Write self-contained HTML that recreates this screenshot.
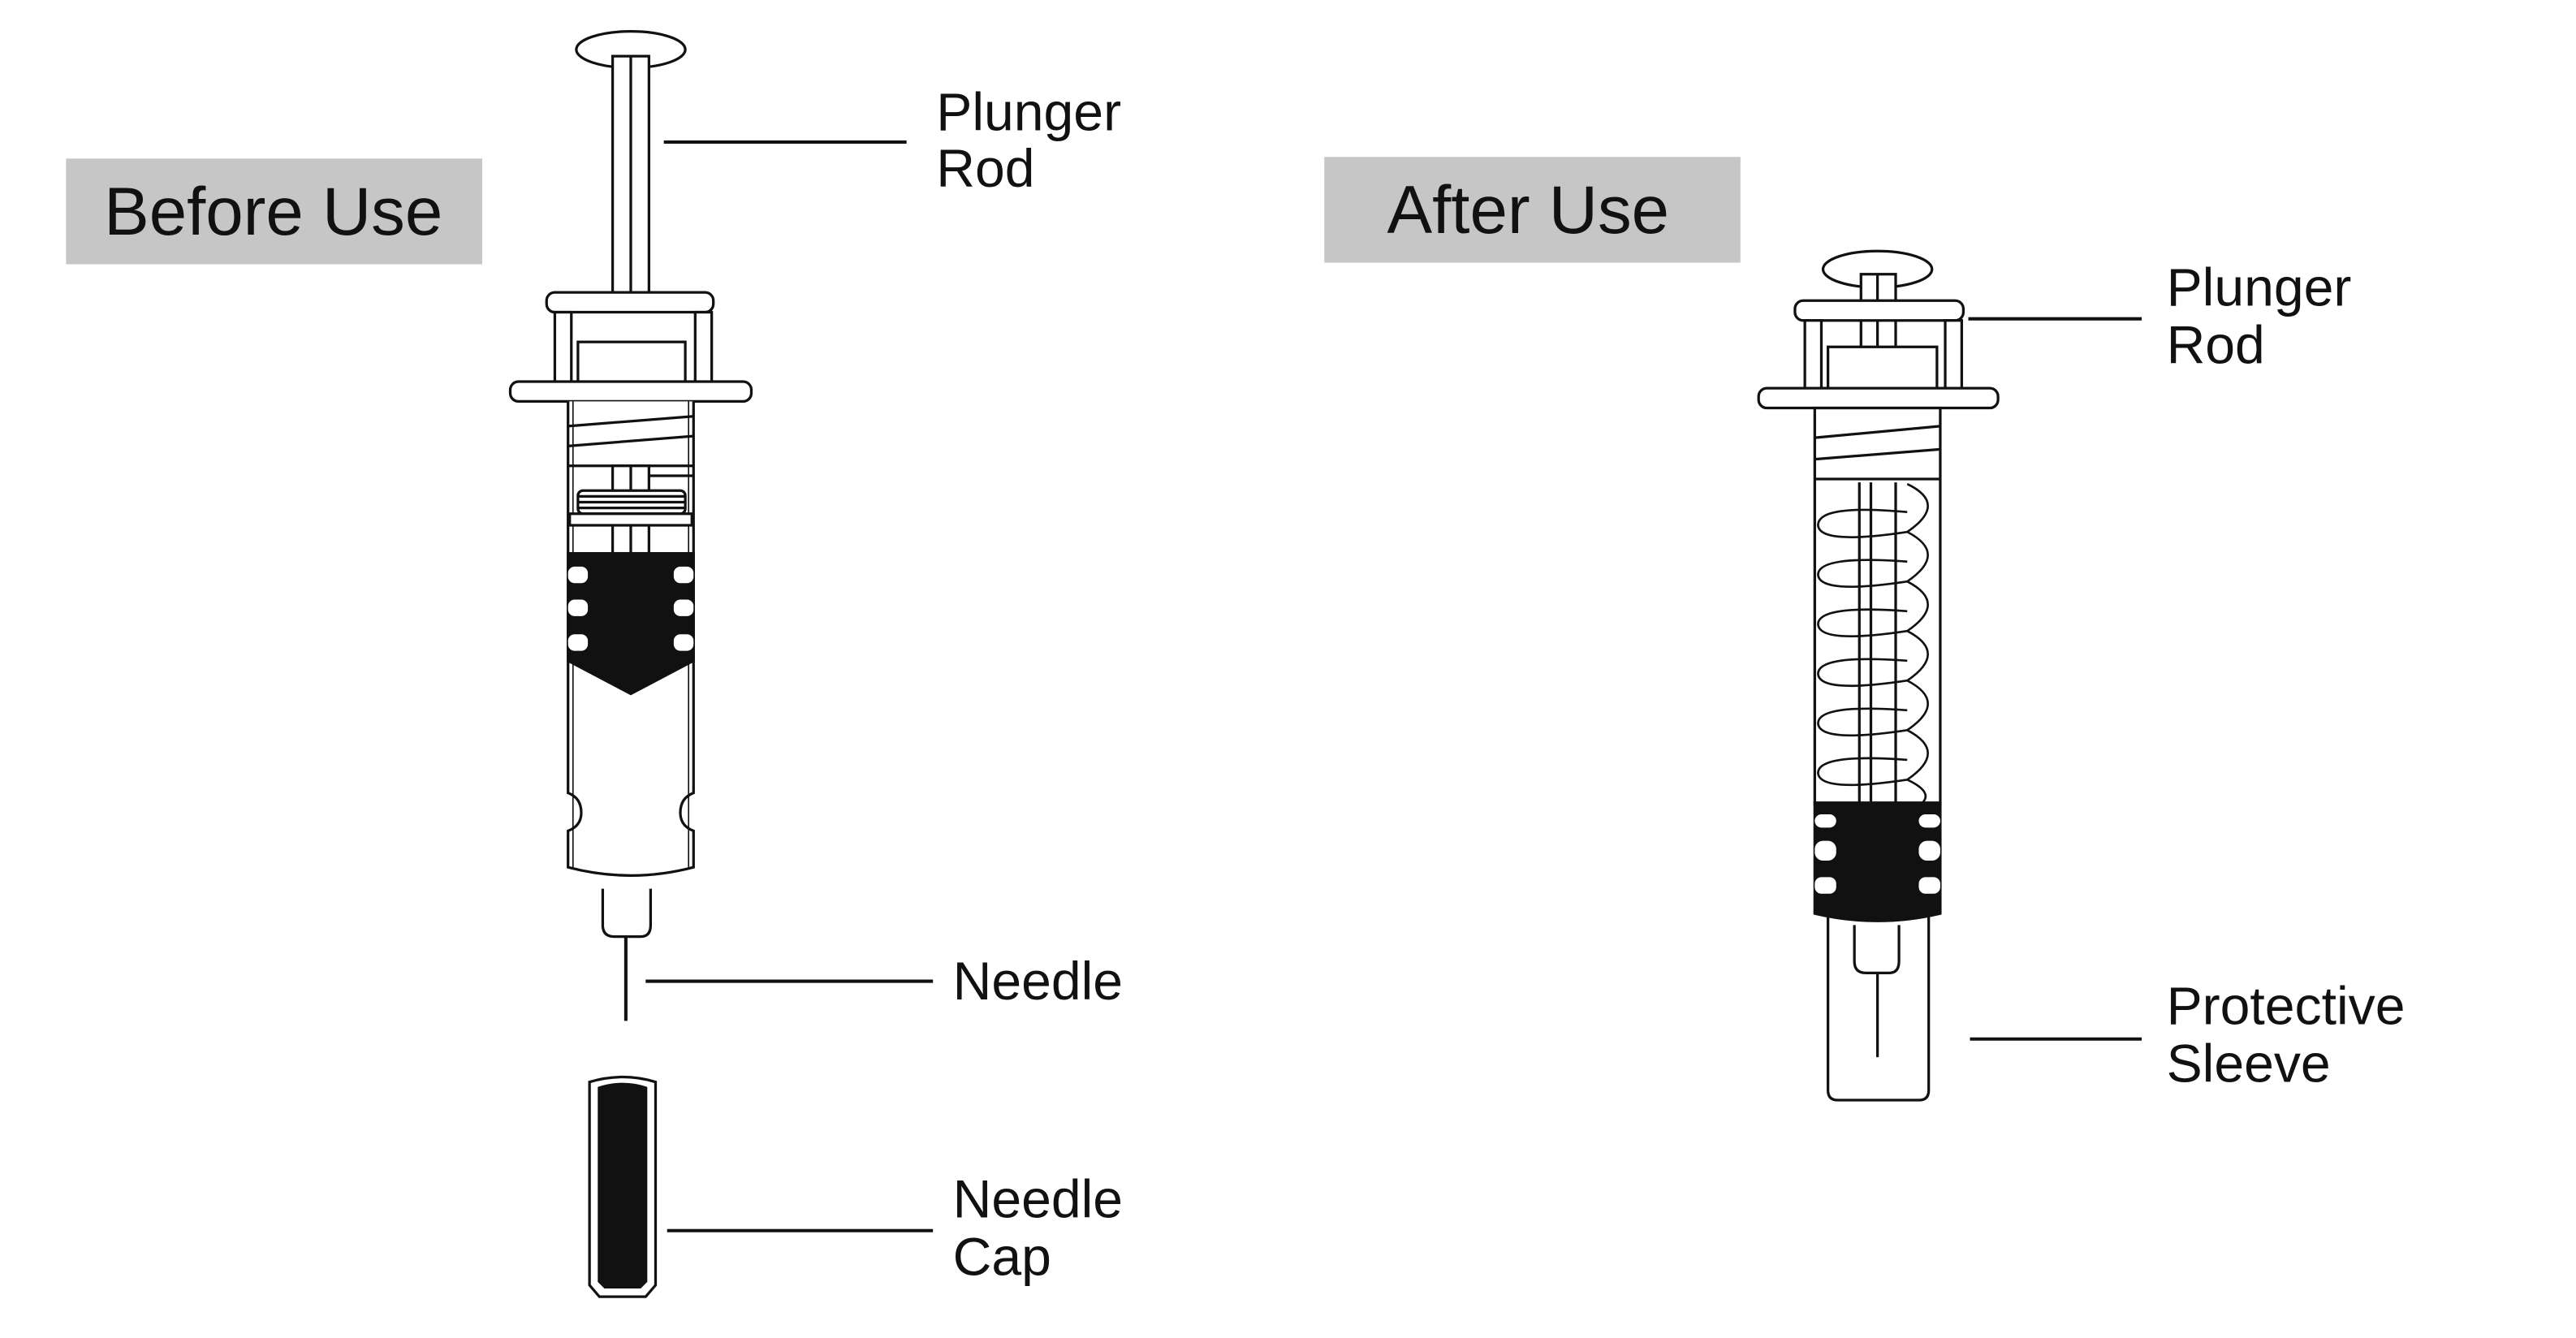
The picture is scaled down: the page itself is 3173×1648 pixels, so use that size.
<!DOCTYPE html>
<html><head><meta charset="utf-8"><style>
html,body{margin:0;padding:0;background:#fff;}
svg{display:block;}
text{font-family:"Liberation Sans",Arial,sans-serif;fill:#111;}
</style></head><body>
<svg width="3173" height="1648" viewBox="0 0 1560 810" preserveAspectRatio="none" xmlns="http://www.w3.org/2000/svg">
<g fill="none" stroke="#111" stroke-width="1.6">
<rect x="40" y="96" width="252" height="64" fill="#c6c6c6" stroke="none"/>
<rect x="802" y="95" width="252" height="64" fill="#c6c6c6" stroke="none"/>

<!-- LEFT SYRINGE -->
<ellipse cx="382" cy="30" rx="33" ry="11" fill="#fff"/>
<rect x="371" y="34" width="22" height="150" fill="#fff"/>
<line x1="382" y1="34" x2="382" y2="184"/>
<rect x="331" y="177" width="101" height="12" rx="5" fill="#fff"/>
<rect x="336" y="189" width="10" height="43" fill="#fff"/>
<rect x="421" y="189" width="10" height="43" fill="#fff"/>
<rect x="350" y="207" width="65" height="25" fill="#fff"/>
<rect x="309" y="231" width="146" height="12" rx="5" fill="#fff"/>
<path d="M344 243 V480 Q352 483 352 492 Q352 500 344 503 V525 Q382 535 420 525 V503 Q412 500 412 492 Q412 483 420 480 V243" fill="#fff"/>
<line x1="347" y1="243" x2="347" y2="525" stroke-width="0.8"/>
<line x1="417" y1="243" x2="417" y2="525" stroke-width="0.8"/>
<path d="M344 258 L420 252 M344 270 L420 264 M344 282 L420 282"/>
<rect x="371" y="282" width="22" height="53" fill="#fff"/>
<line x1="382" y1="282" x2="382" y2="335"/>
<line x1="393" y1="288" x2="420" y2="288"/>
<rect x="350" y="297" width="65" height="14" rx="3" fill="#fff"/>
<path d="M350 300.5H415 M350 304H415 M350 307.5H415"/>
<rect x="345" y="311" width="74" height="7" fill="#fff"/>
<path d="M344 335 H420 V400 L382 420 L344 400 Z" fill="#111"/>
<g fill="#fff" stroke="none">
<rect x="344" y="343" width="12" height="10" rx="4"/><rect x="344" y="363" width="12" height="10" rx="4"/><rect x="344" y="384" width="12" height="10" rx="4"/>
<rect x="408" y="343" width="12" height="10" rx="4"/><rect x="408" y="363" width="12" height="10" rx="4"/><rect x="408" y="384" width="12" height="10" rx="4"/>
</g>
<path d="M365 538 V560 Q365 567 372 567 H388 Q394 567 394 560 V538" fill="#fff"/>
<line x1="379" y1="567" x2="379" y2="618" stroke-width="2"/>
<path d="M357 655 Q377 649 397 655 V778 L391 785 H363 L357 778 Z" fill="#fff"/>
<path d="M362 658 Q377 653 392 658 V776 L388 780 H366 L362 776 Z" fill="#111" stroke="none"/>

<line x1="402" y1="86" x2="549" y2="86" stroke-width="2"/>
<line x1="391" y1="594" x2="565" y2="594" stroke-width="2"/>
<line x1="404" y1="745" x2="565" y2="745" stroke-width="2"/>

<!-- RIGHT SYRINGE -->
<ellipse cx="1137" cy="163" rx="33" ry="11" fill="#fff"/>
<rect x="1127" y="166" width="21" height="46" fill="#fff"/>
<line x1="1137" y1="166" x2="1137" y2="212"/>
<rect x="1087" y="182" width="102" height="12" rx="5" fill="#fff"/>
<rect x="1093" y="194" width="10" height="42" fill="#fff"/>
<rect x="1178" y="194" width="10" height="42" fill="#fff"/>
<rect x="1107" y="210" width="66" height="26" fill="#fff"/>
<rect x="1065" y="235" width="145" height="12" rx="5" fill="#fff"/>
<path d="M1107 555 V660 Q1107 666 1113 666 H1162 Q1168 666 1168 660 V555" fill="#fff"/>
<rect x="1099" y="247" width="76" height="240" fill="#fff"/>
<path d="M1099 265 L1175 258 M1099 278 L1175 272 M1099 290 H1175"/>
<line x1="1126" y1="292" x2="1126" y2="487"/>
<line x1="1133" y1="292" x2="1133" y2="487"/>
<line x1="1148" y1="292" x2="1148" y2="487"/>
<g stroke-width="1.3">
<path d="M1155 293 Q1180 305 1155 322 Q1102 330 1101 318 Q1101 305 1155 310"/>
<path d="M1155 322 Q1180 335 1155 352 Q1102 360 1101 348 Q1101 336 1155 340"/>
<path d="M1155 352 Q1180 365 1155 382 Q1102 390 1101 378 Q1101 366 1155 370"/>
<path d="M1155 382 Q1180 395 1155 412 Q1102 420 1101 408 Q1101 396 1155 400"/>
<path d="M1155 412 Q1180 425 1155 442 Q1102 450 1101 438 Q1101 426 1155 430"/>
<path d="M1155 442 Q1180 455 1155 472 Q1102 480 1101 468 Q1101 456 1155 460"/>
<path d="M1155 472 Q1172 480 1163 487"/>
</g>
<path d="M1099 486 H1175 V553 Q1137 562 1099 553 Z" fill="#111"/>
<g fill="#fff" stroke="none">
<rect x="1099" y="493" width="13" height="8" rx="4"/><rect x="1099" y="509" width="13" height="12" rx="5"/><rect x="1099" y="531" width="13" height="10" rx="4"/>
<rect x="1162" y="493" width="13" height="8" rx="4"/><rect x="1162" y="509" width="13" height="12" rx="5"/><rect x="1162" y="531" width="13" height="10" rx="4"/>
</g>
<path d="M1123 560 V582 Q1123 589 1130 589 H1144 Q1150 589 1150 582 V560" fill="#fff"/>
<line x1="1137" y1="589" x2="1137" y2="640" stroke-width="1.6"/>

<line x1="1192" y1="193" x2="1297" y2="193" stroke-width="2"/>
<line x1="1193" y1="629" x2="1297" y2="629" stroke-width="2"/>
</g>

<text x="63" y="142" font-size="41">Before Use</text>
<text x="840" y="141" font-size="41">After Use</text>
<text x="567" y="79" font-size="32.5">Plunger</text>
<text x="567" y="113" font-size="32.5">Rod</text>
<text x="577" y="605" font-size="32.5">Needle</text>
<text x="577" y="737" font-size="32.5">Needle</text>
<text x="577" y="772" font-size="32.5">Cap</text>
<text x="1312" y="185" font-size="32.5">Plunger</text>
<text x="1312" y="220" font-size="32.5">Rod</text>
<text x="1312" y="620" font-size="32.5">Protective</text>
<text x="1312" y="655" font-size="32.5">Sleeve</text>
</svg>
</body></html>
